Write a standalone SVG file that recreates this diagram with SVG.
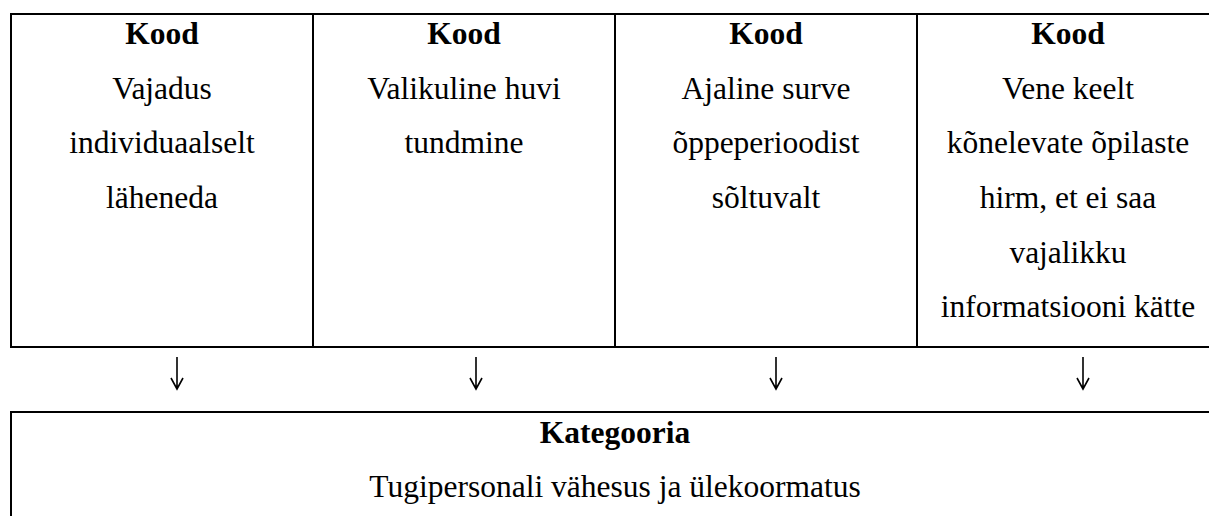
<svg xmlns="http://www.w3.org/2000/svg" width="1209" height="516" viewBox="0 0 1209 516">
<style>
.box{fill:#fff;stroke:#000;stroke-width:2}
.t{font-family:"Liberation Serif","Times New Roman",serif;font-size:31.5px;fill:#000;text-anchor:middle}
.b{font-weight:bold}
.arr{stroke:#000;stroke-width:1.6;fill:none}
</style>
<rect width="1209" height="516" fill="#fff"/>
<g id="kood1">
<rect class="box" x="11" y="14" width="302" height="333"/>
<text class="t b" x="162" y="44">Kood</text>
<text class="t" x="162" y="99">Vajadus</text>
<text class="t" x="162" y="153">individuaalselt</text>
<text class="t" x="162" y="208">läheneda</text>
</g>
<g id="kood2">
<rect class="box" x="313" y="14" width="302" height="333"/>
<text class="t b" x="464" y="44">Kood</text>
<text class="t" x="464" y="99">Valikuline huvi</text>
<text class="t" x="464" y="153">tundmine</text>
</g>
<g id="kood3">
<rect class="box" x="615" y="14" width="302" height="333"/>
<text class="t b" x="766" y="44">Kood</text>
<text class="t" x="766" y="99">Ajaline surve</text>
<text class="t" x="766" y="153">õppeperioodist</text>
<text class="t" x="766" y="208">sõltuvalt</text>
</g>
<g id="kood4">
<rect class="box" x="917" y="14" width="302" height="333"/>
<text class="t b" x="1068" y="44">Kood</text>
<text class="t" x="1068" y="99">Vene keelt</text>
<text class="t" x="1068" y="153">kõnelevate õpilaste</text>
<text class="t" x="1068" y="208">hirm, et ei saa</text>
<text class="t" x="1068" y="263">vajalikku</text>
<text class="t" x="1068" y="317">informatsiooni kätte</text>
</g>
<g id="kategooria">
<rect class="box" x="11" y="412" width="1208" height="130"/>
<text class="t b" x="615" y="443">Kategooria</text>
<text class="t" x="615" y="497">Tugipersonali vähesus ja ülekoormatus</text>
</g>
<g id="connectors">
<path class="arr" d="M177 357V389M171 378L177 389L183 378"/>
<path class="arr" d="M476 357V389M470 378L476 389L482 378"/>
<path class="arr" d="M776 357V389M770 378L776 389L782 378"/>
<path class="arr" d="M1083 357V389M1077 378L1083 389L1089 378"/>
</g>
</svg>
